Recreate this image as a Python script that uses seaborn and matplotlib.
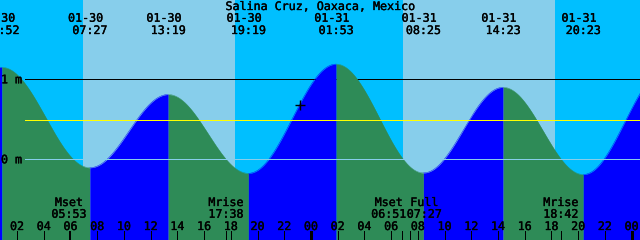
import numpy as np
import pandas as pd
import matplotlib
matplotlib.use("Agg")
import matplotlib.pyplot as plt
import matplotlib.patheffects as pe
import seaborn as sns

# ---------------- data ----------------
title = "Salina Cruz, Oaxaca, Mexico"
# tide extremes shown on the chart
ext_date = ["01-30", "01-30", "01-30", "01-30", "01-31", "01-31", "01-31", "01-31"]
ext_time = ["00:52", "07:27", "13:19", "19:19", "01:53", "08:25", "14:23", "20:23"]
ext_height = [1.15, -0.105, 0.81, -0.175, 1.19, -0.17, 0.90, -0.19]
# extremes just outside the window (estimated from the curve at the edges)
edge_date = ["01-29", "02-01"]
edge_time = ["18:25", "02:36"]
edge_height = [-0.15, 1.12]
# daylight (hours since 01-30 00:00)
day_start = [6.94, 30.89]
day_end = [18.32, 42.27]
# moon events
moon_name = ["Mset", "Mrise", "Mset", "Full", "Mrise"]
moon_date = ["01-30", "01-30", "01-31", "01-31", "01-31"]
moon_time = ["05:53", "17:38", "06:51", "07:27", "18:42"]
# reference levels
level_one = 1.0
level_mean = 0.49
level_zero = 0.0
ylabels = ["1 m", "0 m"]
ylabel_vals = [1.0, 0.0]
# "now" marker
now_t = 23.18
now_h = 0.68

# ---------------- geometry / style ----------------
X0 = -9.7      # pixel of hour 0
PXH = 13.36    # pixels per hour
Y0 = 159.3     # pixel row of 0 m
PXM = 80.0     # pixels per metre
NIGHT = "#00BFFF"
DAY = "#87CEEB"
RISE = "#0000FF"
FALL = "#2E8B57"
FS = 8.4
LW = 0.72
DAY_OFFSET = {"01-29": -24, "01-30": 0, "01-31": 24, "02-01": 48}
TXT = dict(fontsize=FS, zorder=5, color="black",
           path_effects=[pe.withStroke(linewidth=0.25, foreground="black")])

def hours(date, hm):
    hh, mm = hm.split(":")
    return DAY_OFFSET[date] + int(hh) + int(mm) / 60.0

def py(ypx):
    return (Y0 - ypx) / PXM

def tx(xpx):
    return (xpx - X0) / PXH

sns.set_style("white")
plt.rcParams["font.family"] = ["DejaVu Sans Mono", "DejaVu Sans"]

fig = plt.figure(figsize=(6.4, 2.4), dpi=100)
fig.patch.set_facecolor(NIGHT)
ax = fig.add_axes([0, 0, 1, 1])
t_left, t_right = tx(0), tx(640)

# background: night + day
ax.axvspan(t_left, t_right, color=NIGHT, lw=0, zorder=0)
for a, b in zip(day_start, day_end):
    ax.axvspan(a, b, color=DAY, lw=0, zorder=0.1)

# 1 m line (under the water)
ax.hlines(level_one, tx(25), t_right, color="black", lw=LW, zorder=1, antialiased=False)

# water: tide curve between successive extremes
ext_t = [hours(d, t) for d, t in zip(ext_date, ext_time)]
all_t = [hours(edge_date[0], edge_time[0])] + ext_t + [hours(edge_date[1], edge_time[1])]
all_h = [edge_height[0]] + ext_height + [edge_height[1]]
rows = []
for i in range(len(all_t) - 1):
    t1, t2 = all_t[i], all_t[i + 1]
    h1, h2 = all_h[i], all_h[i + 1]
    a, b = max(t1, t_left - 0.1), min(t2, t_right + 0.1)
    if b <= a:
        continue
    ts = np.linspace(a, b, 400)
    hs = (h1 + h2) / 2 + (h1 - h2) / 2 * np.cos(np.pi * (ts - t1) / (t2 - t1))
    rising = h2 > h1
    col = RISE if rising else FALL
    ax.fill_between(ts, py(245), hs, color=col, lw=0, zorder=2, antialiased=False)
    rows.append(pd.DataFrame({"t": ts, "h": hs, "seg": i,
                              "phase": "rising" if rising else "falling"}))
curve = pd.concat(rows, ignore_index=True)
sns.lineplot(data=curve, x="t", y="h", hue="phase", units="seg", estimator=None,
             palette={"rising": RISE, "falling": FALL}, legend=False, lw=0.3,
             sort=False, ax=ax, zorder=2.5)
ax.set_xlim(t_left, t_right)
ax.set_ylim(py(240), py(0))
ax.axis("off")

# mean and zero lines (above the water)
ax.hlines(level_mean, tx(25), t_right, color="#FFFF00", lw=LW, zorder=3, antialiased=False)
ax.hlines(level_zero, tx(25), t_right, color=DAY, lw=LW, zorder=3, antialiased=False)

# y labels
for lab, v in zip(ylabels, ylabel_vals):
    ax.text(tx(1.0), v - 4.0 / PXM, lab, ha="left", va="baseline", **TXT)

# title and extremes labels
ax.text(tx(320), py(10), title, ha="center", va="baseline", **TXT)
for d, tm, t in zip(ext_date, ext_time, ext_t):
    ax.text(t - 4.3 / PXH, py(21.7), d, ha="center", va="baseline", **TXT)
    ax.text(t, py(34), tm, ha="center", va="baseline", **TXT)

# now marker
ax.plot([now_t], [now_h], marker="+", ms=6.8, mew=1.0, color="black", zorder=5)

# hour ticks and labels
even_hours = np.arange(2, 49, 2)
for hr in even_hours:
    lw = 2.0 if hr % 24 == 0 else LW
    ax.vlines(hr, py(240), py(231), color="black", lw=lw, zorder=4, antialiased=False)
    ax.text(hr, py(230), f"{hr % 24:02d}", ha="center", va="baseline", **TXT)

# moon events
moon_shift = [0, 0, -13.8, 13.8, 0]
for nm, d, tm, sh in zip(moon_name, moon_date, moon_time, moon_shift):
    t = hours(d, tm)
    ax.vlines(t, py(240), py(231), color="black", lw=LW, zorder=4, antialiased=False)
    ax.text(t + sh / PXH, py(206), nm, ha="center", va="baseline", **TXT)
    ax.text(t + sh / PXH, py(217.7), tm, ha="center", va="baseline", **TXT)

fig.savefig("out.png", dpi=100, facecolor=NIGHT)
